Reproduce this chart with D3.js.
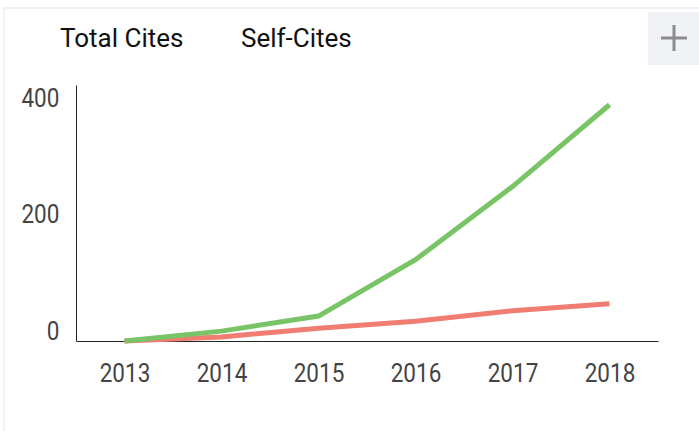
<!DOCTYPE html>
<html lang="en">
<head>
  <meta charset="UTF-8">
  <title>Cites</title>
  <script src="https://cdnjs.cloudflare.com/ajax/libs/d3/7.8.5/d3.min.js"></script>
  <style>
    body { margin: 0; background: #fff; }
    text { font-family: Roboto, "Noto Sans", sans-serif; }
  </style>
</head>
<body>
<script>
  const years = ['2013', '2014', '2015', '2016', '2017', '2018'];
  const totalCites = [0, 17, 43, 140, 266, 407];
  const selfCites = [0, 7, 22, 34, 52, 64];
  const yTicks = [0, 200, 400];
  const legendLabels = ['Total Cites', 'Self-Cites'];

  const width = 699;
  const height = 431;
  const margin = {top: 85, right: 41, bottom: 90, left: 76};
  const squeeze = 0.9; // axis numbers in the picture are a bit narrow

  const svg = d3.select('body').append('svg')
    .attr('width', width)
    .attr('height', height);

  // card edges
  svg.append('rect')
    .attr('x', 4).attr('y', 8)
    .attr('width', width).attr('height', height)
    .attr('fill', '#fff')
    .attr('stroke', '#eeeeee')
    .attr('stroke-width', 1.5);

  const x = d3.scalePoint()
    .domain(years)
    .range([margin.left, width - margin.right])
    .padding(0.5);

  const y = d3.scaleLinear()
    .domain([0, 441])
    .range([height - margin.bottom, margin.top]);

  const xAxis = g => g
    .attr('transform', `translate(0,${height - margin.bottom})`)
    .call(d3.axisBottom(x).tickSize(0).tickSizeOuter(0))
    .call(g => g.select('.domain').attr('stroke', '#222'))
    .call(g => g.selectAll('text')
      .attr('y', 41).attr('dy', 0)
      .attr('transform', `scale(${squeeze},1)`)
      .style('font-size', '25px')
      .style('fill', '#444'));

  const yAxis = g => g
    .attr('transform', `translate(${margin.left},0)`)
    .call(d3.axisLeft(y).tickValues(yTicks).tickSize(0).tickSizeOuter(0))
    .call(g => g.select('.domain').attr('stroke', '#222'))
    .call(g => g.selectAll('text')
      .attr('x', -18.5).attr('dy', -2)
      .attr('transform', `scale(${squeeze},1)`)
      .style('font-size', '25px')
      .style('fill', '#444'));

  svg.append('g').call(xAxis);
  svg.append('g').call(yAxis);

  const line = d3.line()
    .x((d, i) => x(years[i]))
    .y(d => y(d));

  svg.append('path')
    .datum(selfCites)
    .attr('fill', 'none')
    .attr('stroke', '#ef7d72')
    .attr('stroke-width', 5)
    .attr('d', line);

  svg.append('path')
    .datum(totalCites)
    .attr('fill', 'none')
    .attr('stroke', '#79c466')
    .attr('stroke-width', 5)
    .attr('d', line);

  // legend
  svg.append('g')
    .selectAll('text')
    .data(legendLabels)
    .join('text')
    .attr('x', (d, i) => [60, 241][i])
    .attr('y', 47)
    .style('font-size', '26px')
    .style('fill', '#111')
    .text(d => d);

  // "+" button
  const btn = svg.append('g').attr('transform', 'translate(648,12)');
  btn.append('rect')
    .attr('width', 51).attr('height', 53)
    .attr('fill', '#f1f2f6');
  btn.append('path')
    .attr('d', 'M13,26H39M26,13V39')
    .attr('stroke', '#8c8c8c')
    .attr('stroke-width', 3);
</script>
</body>
</html>
